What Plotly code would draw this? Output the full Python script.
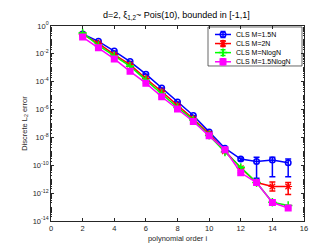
import plotly.graph_objects as go

order = [2, 3, 4, 5, 6, 7, 8, 9, 10, 11, 12, 13, 14, 15]

err_15N = [2.7e-1, 7.9e-2, 1.6e-2, 2.8e-3, 3.5e-4, 3.5e-5, 3.5e-6, 3.8e-7, 2.5e-8, 1.7e-9, 2.8e-10, 1.9e-10, 2.4e-10, 1.5e-10]
up_15N = [2.7e-1, 7.9e-2, 1.6e-2, 2.8e-3, 3.5e-4, 3.5e-5, 3.5e-6, 3.8e-7, 2.5e-8, 1.8e-9, 3.4e-10, 3.7e-10, 3.7e-10, 2.8e-10]
lo_15N = [2.7e-1, 7.9e-2, 1.6e-2, 2.8e-3, 3.5e-4, 3.5e-5, 3.5e-6, 3.8e-7, 2.5e-8, 1.6e-9, 2.2e-10, 1.15e-11, 1.5e-11, 1.5e-11]

err_2N = [2.5e-1, 5.6e-2, 8.9e-3, 1.7e-3, 1.7e-4, 2.0e-5, 2.0e-6, 2.2e-7, 1.8e-8, 1.0e-9, 6.3e-11, 5.8e-12, 3.0e-12, 3.0e-12]
up_2N = [2.5e-1, 5.6e-2, 8.9e-3, 1.7e-3, 1.7e-4, 2.0e-5, 2.0e-6, 2.2e-7, 1.8e-8, 1.0e-9, 6.3e-11, 6.0e-12, 6.3e-12, 5.8e-12]
lo_2N = [2.5e-1, 5.6e-2, 8.9e-3, 1.7e-3, 1.7e-4, 2.0e-5, 2.0e-6, 2.2e-7, 1.8e-8, 1.0e-9, 6.3e-11, 5.6e-12, 1.4e-12, 8.0e-13]

err_NlogN = [3.2e-1, 4.0e-2, 7.1e-3, 1.3e-3, 1.3e-4, 1.4e-5, 1.4e-6, 1.8e-7, 1.4e-8, 8.9e-10, 7.1e-11, 5.8e-12, 2.2e-13, 1.3e-13]
err_15NlogN = [1.6e-1, 2.8e-2, 4.3e-3, 5.6e-4, 7.9e-5, 8.3e-6, 1.1e-6, 1.4e-7, 1.3e-8, 1.3e-9, 2.9e-11, 5.8e-12, 2.1e-13, 8.5e-14]

names = ["CLS M=1.5N", "CLS M=2N", "CLS M=NlogN", "CLS M=1.5NlogN"]
colors = ["#0000ff", "#ff0000", "#00ff00", "#ff00ff"]
symbols = ["circle-open", "asterisk-open", "cross-thin-open", "square"]
msizes = [5.5, 6.5, 6, 5.5]
mwidths = [1.5, 1.2, 1.5, 1.5]

ytick_exp = [0, -2, -4, -6, -8, -10, -12, -14]
ytick_vals = [10.0 ** e for e in ytick_exp]
ytick_text = ["10<sup>%d</sup>" % e for e in ytick_exp]

series = [
    (err_15N, up_15N, lo_15N),
    (err_2N, up_2N, lo_2N),
    (err_NlogN, err_NlogN, err_NlogN),
    (err_15NlogN, err_15NlogN, err_15NlogN),
]

W, H = 327, 245
L, R, T, B = 43, 31, 17, 28
px_x = [L, W - R]
px_y = [H - B, T]

fig = go.Figure()
for (y, up, lo), name, c, s, ms, mw in zip(series, names, colors, symbols, msizes, mwidths):
    plus = [u - v for u, v in zip(up, y)]
    minus = [v - l for l, v in zip(lo, y)]
    fig.add_trace(go.Scatter(
        x=order, y=y, name=name, mode="lines+markers", showlegend=False,
        line=dict(color=c, width=1.5),
        marker=dict(symbol=s, size=ms, color=c, line=dict(color=c, width=mw)),
        error_y=dict(type="data", array=plus, arrayminus=minus, symmetric=False,
                     color=c, thickness=1.5, width=3),
    ))

# custom compact legend (layout in pixel units on an overlay axis)
leg_left, leg_right, leg_top, leg_bot = 200, 294, 18, 58
row_y = [25.7, 35.0, 44.3, 53.7]
fig.add_shape(type="rect", xref="x2", yref="y2", x0=leg_left, x1=leg_right, y0=leg_top, y1=leg_bot,
              line=dict(color="#262626", width=0.7), fillcolor="white", layer="below")
for ry, name, c, s, ms, mw in zip(row_y, names, colors, symbols, msizes, mwidths):
    fig.add_trace(go.Scatter(
        x=[207, 223], y=[ry, ry], xaxis="x2", yaxis="y2", mode="lines", showlegend=False,
        line=dict(color=c, width=1.5), hoverinfo="skip"))
    fig.add_trace(go.Scatter(
        x=[215], y=[ry], xaxis="x2", yaxis="y2", mode="markers", showlegend=False,
        marker=dict(symbol=s, size=ms, color=c, line=dict(color=c, width=mw)),
        error_y=dict(type="constant", value=3, color=c, thickness=1.5, width=2.5), hoverinfo="skip"))
    fig.add_annotation(x=226, y=ry, xref="x2", yref="y2", text=name, showarrow=False,
                       xanchor="left", yanchor="middle", font=dict(size=7, color="#000000"))

axis_common = dict(showline=True, linecolor="#262626", linewidth=0.8, mirror="allticks",
                   ticks="inside", ticklen=3, tickcolor="#262626", showgrid=False,
                   zeroline=False, tickfont=dict(size=7.5, color="#262626"))

fig.update_layout(
    width=W, height=H,
    margin=dict(l=L, r=R, t=T, b=B),
    paper_bgcolor="white", plot_bgcolor="white",
    font=dict(family="Liberation Sans, Arial, sans-serif", size=7, color="#262626"),
    title=dict(text="d=2, ξ<sub>1,2</sub>~ Pois(10), bounded in [-1,1]", x=0.515, xanchor="center",
               y=0.985, yanchor="top", font=dict(size=9, color="#000000")),
    showlegend=False,
    xaxis2=dict(overlaying="x", range=px_x, visible=False, fixedrange=True),
    yaxis2=dict(overlaying="y", range=px_y, visible=False, fixedrange=True),
    xaxis=dict(range=[0, 16], dtick=2, tick0=0,
               title=dict(text="polynomial order i", font=dict(size=7.5), standoff=3),
               **axis_common),
    yaxis=dict(type="log", range=[-14, 0], tickmode="array", tickvals=ytick_vals, ticktext=ytick_text,
               minor=dict(ticks="inside", ticklen=1.5, dtick="D1", tickcolor="#262626"),
               title=dict(text="Discrete L<sub>2</sub> error", font=dict(size=7.5), standoff=4),
               **axis_common),
)

fig.write_html("out.html")
